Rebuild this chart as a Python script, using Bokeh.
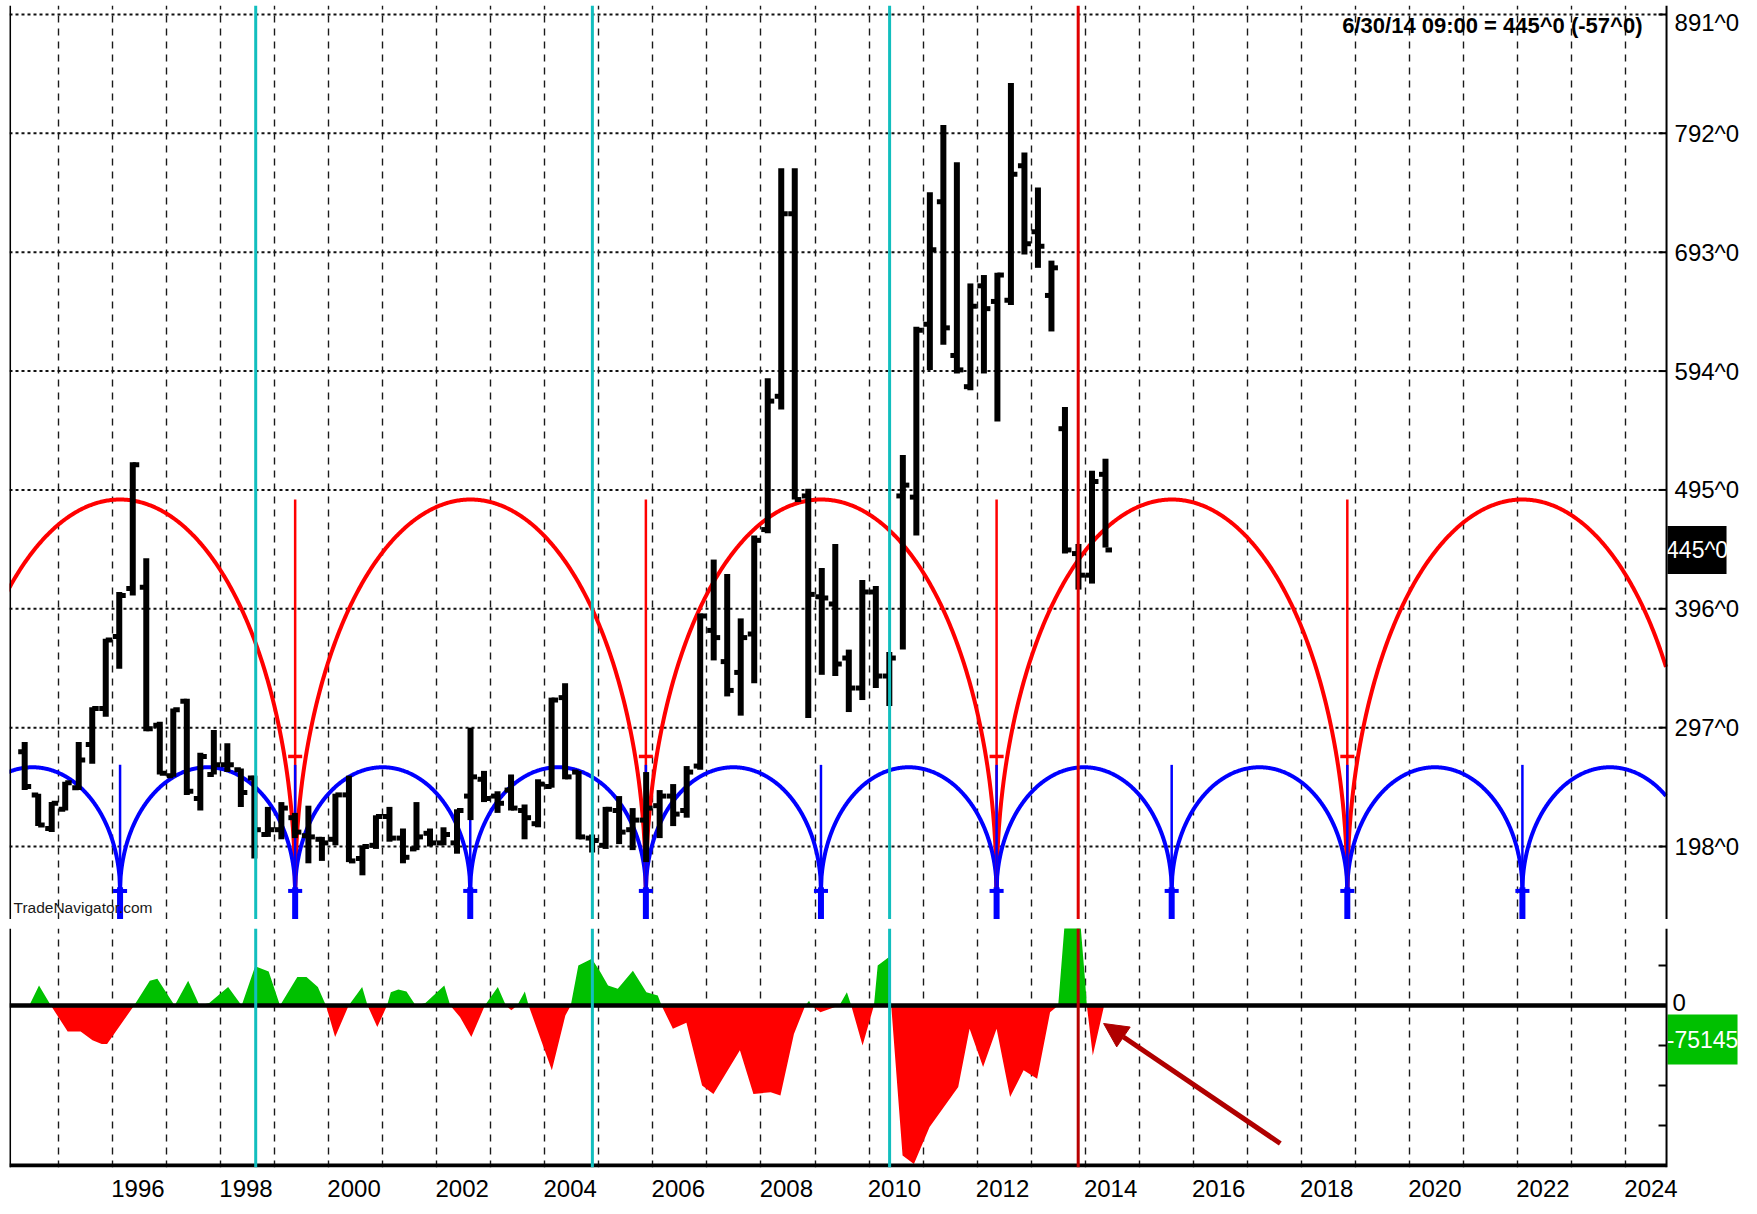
import numpy as np
from bokeh.plotting import figure
from bokeh.layouts import column
from bokeh.models import Range1d, LinearAxis, FixedTicker, Span, Arrow, NormalHead, Grid
from bokeh.core.properties import value
from bokeh.embed import file_html
from bokeh.resources import INLINE

FONT = "Liberation Sans"

# ---------------- data ----------------
# quarterly bars, Q2 1994 .. Q2 2014 (bar centred in its quarter)
bar_time = [y + (q - 0.5) / 4 for y in range(1994, 2015) for q in range(1, 5)][1:82]
bar_open = [277, 241, 213, 229, 247, 283, 313, 373, 413, 414,
            299, 257, 319, 238, 258, 266, 262, 255, 208, 212,
            222, 207, 204, 204, 241, 188, 199, 223, 205, 196,
            209, 201, 201, 240, 254, 240, 245, 228, 217, 248,
            322, 260, 205, 199, 228, 212, 220, 232, 240, 228,
            265, 378, 352, 343, 375, 462, 573, 725, 490, 406,
            400, 355, 330, 410, 340, 490, 489, 633, 735, 607,
            581, 665, 652, 653, 765, 710, 657, 546, 442, 424,
            508]
bar_high = [285, 242, 235, 252, 285, 314, 371, 410, 518, 438,
            302, 313, 321, 276, 295, 284, 263, 257, 231, 235,
            226, 232, 206, 242, 257, 199, 224, 231, 213, 235,
            213, 214, 229, 297, 261, 244, 258, 233, 254, 322,
            334, 261, 208, 231, 240, 230, 260, 245, 250, 265,
            392, 437, 425, 388, 457, 588, 763, 763, 496, 430,
            450, 362, 420, 415, 360, 524, 631, 743, 799, 768,
            667, 674, 676, 834, 776, 747, 686, 564, 450, 511,
            521]
bar_low = [245, 215, 210, 228, 245, 267, 306, 346, 407, 294,
           258, 256, 241, 228, 258, 260, 231, 188, 206, 204,
           205, 184, 186, 199, 185, 174, 196, 202, 184, 195,
           198, 199, 192, 220, 235, 226, 228, 204, 214, 247,
           254, 204, 193, 196, 200, 195, 185, 205, 215, 222,
           262, 353, 323, 307, 334, 459, 562, 487, 305, 341,
           340, 310, 320, 330, 315, 362, 457, 595, 616, 592,
           578, 592, 552, 649, 691, 680, 627, 442, 412, 417,
           447]
bar_close = [248, 216, 234, 251, 270, 313, 370, 407, 516, 296,
             259, 312, 244, 273, 266, 266, 243, 212, 212, 230,
             210, 206, 201, 241, 186, 198, 223, 205, 189, 206,
             201, 208, 228, 256, 238, 234, 230, 222, 250, 320,
             256, 206, 203, 229, 210, 220, 230, 240, 225, 260,
             390, 372, 328, 372, 453, 569, 725, 487, 408, 405,
             350, 330, 410, 340, 355, 499, 628, 695, 630, 595,
             648, 646, 674, 758, 700, 698, 680, 445, 424, 502,
             445]

# oscillator (lower panel)
osc_time = [1994.46, 1994.64, 1994.86, 1995.17, 1995.41, 1995.63, 1995.80, 1995.90, 1996.40, 1996.69,
            1996.83, 1997.15, 1997.40, 1997.61, 1997.79, 1998.14, 1998.39, 1998.64, 1998.89, 1999.10,
            1999.42, 1999.59, 1999.80, 1999.95, 2000.12, 2000.37, 2000.62, 2000.72, 2000.90, 2001.08,
            2001.15, 2001.29, 2001.44, 2001.61, 2001.79, 2002.14, 2002.25, 2002.43, 2002.64, 2002.89,
            2003.13, 2003.28, 2003.38, 2003.49, 2003.63, 2003.70, 2004.13, 2004.38, 2004.48, 2004.62,
            2004.87, 2005.03, 2005.17, 2005.35, 2005.63, 2005.88, 2006.09, 2006.16, 2006.37, 2006.62,
            2006.91, 2007.12, 2007.61, 2007.86, 2008.18, 2008.36, 2008.61, 2008.82, 2008.89, 2008.93,
            2009.10, 2009.28, 2009.45, 2009.59, 2009.67, 2009.88, 2010.09, 2010.16, 2010.37, 2010.41,
            2010.62, 2010.83, 2011.12, 2011.65, 2011.86, 2012.11, 2012.36, 2012.61, 2012.86, 2013.11,
            2013.35, 2013.50, 2013.64, 2013.89, 2014.00, 2014.03, 2014.14, 2014.35]
osc_value = [0, 50000, 0, -65000, -65000, -87000, -96000, -96000, 0, 62000,
             67000, 0, 62000, 0, 6000, 46000, 0, 98000, 85000, 0,
             71000, 71000, 46000, 0, -79000, 0, 46000, 0, -54000, 0,
             33000, 40000, 35000, 0, 6000, 50000, 0, -29000, -79000, 0,
             46000, 0, -12000, 0, 35000, 0, -162000, -25000, 0, 100000,
             117000, 83000, 50000, 42000, 87000, 33000, 25000, 0, -58000, -43000,
             -200000, -221000, -112000, -221000, -217000, -225000, -71000, 0, 12000, 0,
             -17000, -8000, 0, 33000, 0, -100000, 0, 100000, 121000, 0,
             -375000, -396000, -304000, -204000, -58000, -154000, -58000, -229000, -162000, -183000,
             -17000, 0, 240000, 240000, 58000, 0, -125000, 0]

# cycles
red_troughs = [1992.90, 1999.38, 2005.87, 2012.36, 2018.85, 2025.33]
blue_troughs = [1992.90, 1996.14, 1999.38, 2002.62, 2005.87, 2009.11, 2012.36, 2015.60, 2018.85, 2022.09, 2025.33]
cycle_base = 161
red_peak = 487
blue_peak = 264

cyan_lines = [1998.65, 2004.88, 2010.38]
red_line = 2013.87

price_ticks = [198, 297, 396, 495, 594, 693, 792, 891]
grid_years = list(range(1995, 2025))
label_years = list(range(1996, 2025, 2))
last_price = 445
osc_last = -75145
osc_ticks = [100000, -100000, -200000, -300000]

# ---------------- geometry ----------------
PX = 54.04                      # pixels per year
X0 = 1994.094                   # left edge of plot
XAX = 2024.757                  # right price axis
XEND = X0 + 1742 / PX           # frame extends under the axis labels
xr = Range1d(X0, XEND)
PY = 914 / (898.5 - 137.2)      # pixels per price unit
TXT = value(FONT)

# ---------------- main panel ----------------
p = figure(frame_width=1742, frame_height=914, x_range=xr, y_range=Range1d(137.2, 898.5),
           output_backend="svg", toolbar_location=None, x_axis_location=None, y_axis_location=None,
           min_border_left=9, min_border_right=0, min_border_top=5, min_border_bottom=0)
p.outline_line_color = None
p.grid.visible = False

p.add_layout(Grid(dimension=0, ticker=FixedTicker(ticks=grid_years), grid_line_color="#1a1a1a",
                  grid_line_width=1.4, grid_line_dash="7 6"))
n = len(price_ticks)
p.segment(x0=[X0] * n, y0=price_ticks, x1=[XAX] * n, y1=price_ticks, line_color="#111111",
          line_width=2, line_dash="3 3")

p.add_layout(Span(location=X0 + 0.01, dimension="height", line_color="black", line_width=2))
for c in cyan_lines:
    p.add_layout(Span(location=c, dimension="height", line_color="#12BEBE", line_width=3))
p.add_layout(Span(location=red_line, dimension="height", line_color="#E00000", line_width=3))


def arcs(troughs, base, peak):
    xs, ys = [], []
    u = np.linspace(-1.0, 1.0, 301)
    for a, b in zip(troughs[:-1], troughs[1:]):
        x = (a + b) / 2 + u * (b - a) / 2
        y = base + (peak - base) * np.sqrt(np.clip(1 - u ** 2, 0, 1))
        keep = x <= XAX
        xs.append(list(x[keep]))
        ys.append(list(y[keep]))
    return xs, ys


rx, ry = arcs(red_troughs, cycle_base, red_peak)
bx, by = arcs(blue_troughs, cycle_base, blue_peak)
p.multi_line(rx, ry, line_color="#FF0000", line_width=4)
p.multi_line(bx, by, line_color="#0000FF", line_width=4)

rt = red_troughs[1:-1]
k = len(rt)
p.segment(x0=rt, y0=[red_peak] * k, x1=rt, y1=[cycle_base] * k, line_color="#FF0000", line_width=2.5)
p.segment(x0=[t - 0.13 for t in rt], y0=[273] * k, x1=[t + 0.13 for t in rt], y1=[273] * k,
          line_color="#FF0000", line_width=3.5)
bt = blue_troughs[1:-1]
k = len(bt)
p.segment(x0=bt, y0=[blue_peak + 2] * k, x1=bt, y1=[cycle_base] * k, line_color="#0000FF", line_width=2.5)
p.segment(x0=bt, y0=[cycle_base + 3] * k, x1=bt, y1=[120] * k, line_color="#0000FF", line_width=6)
p.segment(x0=[t - 0.13 for t in bt], y0=[cycle_base] * k, x1=[t + 0.13 for t in bt], y1=[cycle_base] * k,
          line_color="#0000FF", line_width=4)

tk = 0.12
p.segment(x0=bar_time, y0=bar_low, x1=bar_time, y1=bar_high, line_color="black", line_width=6, line_cap="butt")
p.segment(x0=[t - tk for t in bar_time], y0=bar_open, x1=bar_time, y1=bar_open, line_color="black", line_width=5)
p.segment(x0=bar_time, y0=bar_close, x1=[t + tk for t in bar_time], y1=bar_close, line_color="black", line_width=5)

# right price axis (line, inward ticks, labels)
p.add_layout(Span(location=XAX, dimension="height", line_color="black", line_width=2))
p.segment(x0=[XAX - 8 / PX] * n, y0=price_ticks, x1=[XAX] * n, y1=price_ticks, line_color="black", line_width=2)
label_y = [t if t != 891 else 884.5 for t in price_ticks]
p.text(x=[XAX + 8 / PX] * n, y=label_y, text=[f"{t}^0" for t in price_ticks], text_font=TXT,
       text_font_size="24px", text_color="black", text_align="left", text_baseline="middle")
p.rect(x=[XAX + 30.5 / PX], y=[last_price], width=[59 / PX], height=[48 / PY], fill_color="black", line_color=None)
p.text(x=[XAX + 30.5 / PX], y=[last_price], text=[f"{last_price}^0"], text_font=TXT, text_font_size="23px",
       text_color="white", text_align="center", text_baseline="middle")

p.text(x=[X0 + 1633 / PX], y=[881.8], text=["6/30/14 09:00 = 445^0 (-57^0)"], text_font=TXT,
       text_font_size="22px", text_font_style="bold", text_color="black", text_align="right",
       text_baseline="middle")
p.text(x=[X0 + 4 / PX], y=[147], text=["TradeNavigator.com"], text_font=TXT, text_font_size="15.5px",
       text_color="#1a1a1a", text_align="left", text_baseline="middle")

# ---------------- lower panel ----------------
OY = 2500.0                     # oscillator units per pixel
q = figure(frame_width=1742, frame_height=239, x_range=xr, y_range=Range1d(-405000, 192500),
           output_backend="svg", toolbar_location=None, x_axis_location=None, y_axis_location=None,
           min_border_left=9, min_border_right=0, min_border_top=9, min_border_bottom=46)
q.outline_line_color = None
q.grid.visible = False
q.add_layout(Grid(dimension=0, ticker=FixedTicker(ticks=grid_years), grid_line_color="#1a1a1a",
                  grid_line_width=1.4, grid_line_dash="7 6"))

ov = np.array(osc_value, dtype=float)
q.varea(x=osc_time, y1=[0] * len(osc_time), y2=list(np.maximum(ov, 0)), fill_color="#00C000")
q.varea(x=osc_time, y1=[0] * len(osc_time), y2=list(np.minimum(ov, 0)), fill_color="#FF0000")

q.segment(x0=[X0], y0=[0], x1=[XAX], y1=[0], line_color="black", line_width=4.5)
q.segment(x0=[X0], y0=[-400000], x1=[XAX], y1=[-400000], line_color="black", line_width=4)
q.add_layout(Span(location=X0 + 0.01, dimension="height", line_color="black", line_width=2))
for c in cyan_lines:
    q.add_layout(Span(location=c, dimension="height", line_color="#12BEBE", line_width=3))
q.add_layout(Span(location=red_line, dimension="height", line_color="#B80000", line_width=3))

q.add_layout(Span(location=XAX, dimension="height", line_color="black", line_width=2))
m = len(osc_ticks)
q.segment(x0=[XAX - 8 / PX] * m, y0=osc_ticks, x1=[XAX] * m, y1=osc_ticks, line_color="black", line_width=2)
q.text(x=[XAX + 6 / PX], y=[7500], text=["0"], text_font=TXT, text_font_size="24px", text_color="black",
       text_align="left", text_baseline="middle")
q.rect(x=[XAX + 36 / PX], y=[-85000], width=[70 / PX], height=[50 * OY], fill_color="#00C000", line_color=None)
q.text(x=[XAX + 36 / PX], y=[-85000], text=[f"{osc_last}"], text_font=TXT, text_font_size="23px",
       text_color="white", text_align="center", text_baseline="middle")

xax = LinearAxis(ticker=FixedTicker(ticks=[y + 0.47 for y in label_years]),
                 major_label_overrides={y + 0.47: str(y) for y in label_years},
                 axis_line_color=None, major_tick_in=0, major_tick_out=0,
                 minor_tick_line_color=None, major_label_text_font=FONT,
                 major_label_text_font_size="24px", major_label_text_color="black",
                 major_label_standoff=12)
q.add_layout(xax, "below")

q.add_layout(Arrow(end=NormalHead(size=24, fill_color="#B00000", line_color="#B00000"),
                   x_start=2017.61, y_start=-345000, x_end=2014.34, y_end=-45000,
                   line_color="#B00000", line_width=5))

layout = column(p, q, spacing=0)
open("out.html", "w").write(file_html(layout, INLINE))
